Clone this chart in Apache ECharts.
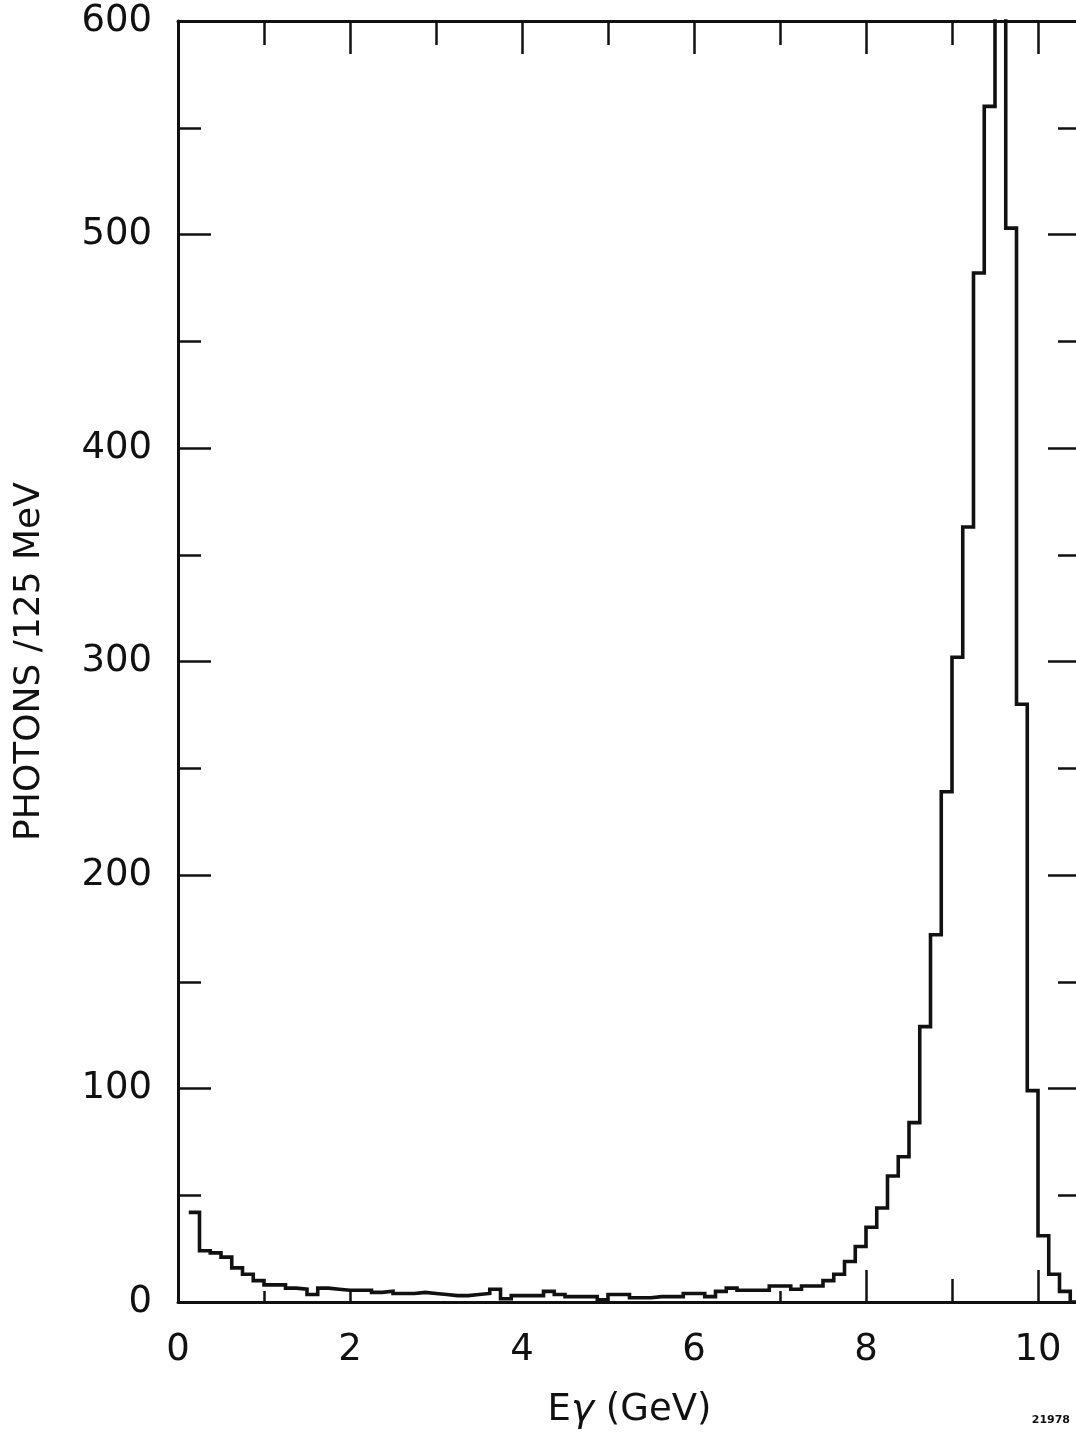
<!DOCTYPE html>
<html>
<head>
<meta charset="utf-8">
<script src="https://cdn.jsdelivr.net/npm/echarts@6/dist/echarts.min.js"></script>
<style>
  html, body { margin: 0; padding: 0; background: #fff; }
  #main { width: 1076px; height: 1440px; }
</style>
</head>
<body>
<div id="main"></div>
<script>
// histogram: photons per 125 MeV bin, first bin starts at 0.125 GeV
var binStart = 0.125;
var binWidth = 0.125;
var counts = [
  42, 24, 23, 21, 16, 13, 10, 8, 8, 6.5,
  6, 3.5, 6.5, 6, 5.5, 5.5, 5.5, 4.5, 5, 4,
  4, 4.5, 4, 3.5, 3, 3, 3.5, 4, 6, 1.5,
  3, 3, 3, 5, 3.5, 2.5, 2.5, 2.5, 1, 3.5,
  3.5, 2, 2, 2.5, 2.5, 2.5, 4, 4, 2.5, 5,
  6.5, 5.5, 5.5, 5.5, 7.5, 7.5, 6, 7.5, 7.5, 10,
  13, 19, 26, 35, 44, 59, 68, 84, 129, 172,
  239, 302, 363, 482, 560, 650, 503, 280, 99, 31,
  13, 5, 0
];
var yLabelTicks = [0, 100, 200, 300, 400, 500, 600];
var xLabelTicks = [0, 2, 4, 6, 8, 10];
var bottomShortTicks = [1, 2, 7];
var bottomLongTicks = [8, 10];
var bottomMidTicks = [9];

var data = [];
for (var i = 0; i < counts.length; i++) {
  data.push([binStart + i * binWidth, counts[i]]);
}
data.push([binStart + counts.length * binWidth, counts[counts.length - 1]]);

var ink = '#111';
var font = 'DejaVu Sans';
var tickStyle = { color: ink, width: 2.5 };

function xAx(pos, extra) {
  var a = {
    type: 'value', position: pos, min: 0, max: 10.5,
    axisLine: { show: false },
    axisTick: { show: false },
    axisLabel: { show: false },
    splitLine: { show: false }
  };
  for (var k in extra) a[k] = extra[k];
  return a;
}
function yAx(pos, extra) {
  var a = {
    type: 'value', position: pos, min: 0, max: 600, interval: 100,
    axisLine: { show: true, onZero: false, lineStyle: { color: ink, width: 3 } },
    axisTick: { show: true, inside: true, length: 33, lineStyle: tickStyle },
    minorTick: { show: true, splitNumber: 2, length: 23, lineStyle: tickStyle },
    axisLabel: { show: false },
    splitLine: { show: false }
  };
  for (var k in extra) a[k] = extra[k];
  return a;
}

var myChart = echarts.init(document.getElementById('main'));
var option = {
  animation: false,
  backgroundColor: '#fff',
  grid: { left: 178, top: 21, right: -5, bottom: 138, containLabel: false, outerBoundsMode: 'none' },
  xAxis: [
    xAx('bottom', {
      interval: 2,
      axisLine: { show: true, onZero: false, lineStyle: { color: ink, width: 3 } },
      axisTick: { show: true, inside: true, length: 11, customValues: bottomShortTicks, lineStyle: tickStyle },
      axisLabel: {
        show: true, margin: 30, customValues: xLabelTicks,
        color: ink, fontFamily: font, fontSize: 37,
        formatter: function (v) { return v <= 10 ? String(v) : ''; }
      },
      name: 'E{g|γ} (GeV)',
      nameLocation: 'middle',
      nameGap: 89,
      nameTextStyle: {
        color: ink, fontFamily: font, fontSize: 37,
        rich: { g: { fontFamily: font, fontSize: 39, fontStyle: 'italic', color: ink } }
      }
    }),
    xAx('bottom', {
      axisTick: { show: true, inside: true, length: 32, customValues: bottomLongTicks, lineStyle: tickStyle }
    }),
    xAx('bottom', {
      axisTick: { show: true, inside: true, length: 23, customValues: bottomMidTicks, lineStyle: tickStyle }
    }),
    xAx('top', {
      interval: 2,
      axisLine: { show: true, onZero: false, lineStyle: { color: ink, width: 3 } },
      axisTick: { show: true, inside: true, length: 33, lineStyle: tickStyle },
      minorTick: { show: true, splitNumber: 2, length: 24, lineStyle: tickStyle }
    })
  ],
  yAxis: [
    yAx('left', {
      axisLabel: {
        show: true, margin: 26, customValues: yLabelTicks,
        color: ink, fontFamily: font, fontSize: 37
      },
      name: 'PHOTONS /125 MeV',
      nameLocation: 'middle',
      nameGap: 130,
      nameTextStyle: { color: ink, fontFamily: font, fontSize: 36 }
    }),
    yAx('right', {})
  ],
  graphic: [{
    type: 'text', right: 6, bottom: 14,
    style: { text: '21978', fill: ink, font: 'bold 11px "DejaVu Sans"' }
  }],
  series: [{
    type: 'line',
    xAxisIndex: 0,
    yAxisIndex: 0,
    step: 'end',
    showSymbol: false,
    clip: true,
    lineStyle: { color: ink, width: 3.6, join: 'miter' },
    data: data
  }]
};
myChart.setOption(option);
</script>
</body>
</html>
